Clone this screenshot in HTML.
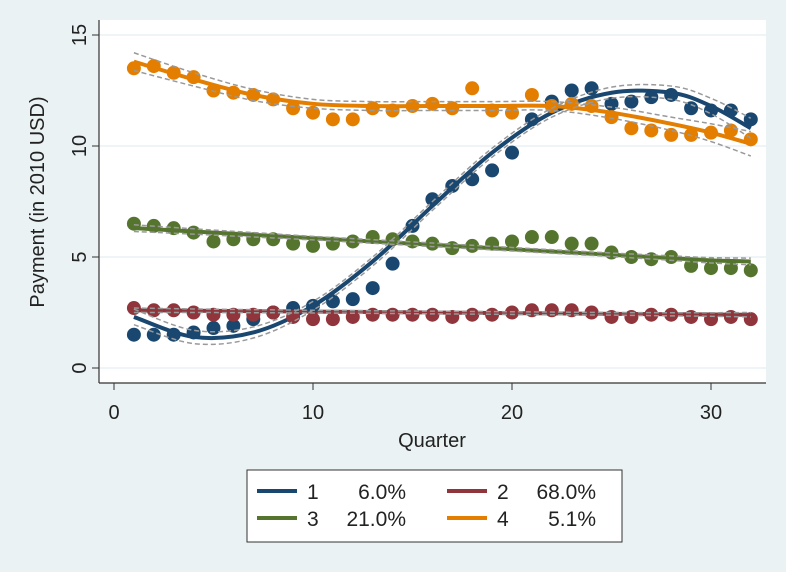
<!DOCTYPE html>
<html><head><meta charset="utf-8"><style>
body{margin:0;background:#eaf2f3;}
svg{display:block;font-family:"Liberation Sans",sans-serif;}
</style></head><body>
<svg id="chart" width="786" height="572">
<rect x="0" y="0" width="786" height="572" fill="#eaf2f3"/>
<rect x="99" y="20" width="667" height="363" fill="#ffffff"/>
<g id="grid"></g><g id="fits"></g><g id="points"></g><g id="axes"></g>
<text x="432" y="447" font-size="20" text-anchor="middle" fill="#222">Quarter</text>
<text transform="translate(44,202) rotate(-90)" font-size="20" text-anchor="middle" fill="#222">Payment (in 2010 USD)</text>
<g>
<rect x="247" y="470" width="375" height="72" fill="#fff" stroke="#333" stroke-width="1"/>
<g id="legend"></g>
</g>
</svg>
<script>
const quarters=[1,2,3,4,5,6,7,8,9,10,11,12,13,14,15,16,17,18,19,20,21,22,23,24,25,26,27,28,29,30,31,32];
const s1=[1.5,1.5,1.5,1.6,1.8,1.9,2.2,2.5,2.7,2.8,3.0,3.1,3.6,4.7,6.4,7.6,8.2,8.5,8.9,9.7,11.2,12.0,12.5,12.6,11.9,12.0,12.2,12.3,11.7,11.6,11.6,11.2];
const s2=[2.7,2.6,2.6,2.5,2.4,2.4,2.4,2.5,2.3,2.2,2.2,2.3,2.4,2.4,2.4,2.4,2.3,2.4,2.4,2.5,2.6,2.6,2.6,2.5,2.3,2.3,2.4,2.4,2.3,2.2,2.3,2.2];
const s3=[6.5,6.4,6.3,6.1,5.7,5.8,5.8,5.8,5.6,5.5,5.6,5.7,5.9,5.8,5.7,5.6,5.4,5.5,5.6,5.7,5.9,5.9,5.6,5.6,5.2,5.0,4.9,5.0,4.6,4.5,4.5,4.4];
const s4=[13.5,13.6,13.3,13.1,12.5,12.4,12.3,12.1,11.7,11.5,11.2,11.2,11.7,11.6,11.8,11.9,11.7,12.6,11.6,11.5,12.3,11.8,11.9,11.8,11.3,10.8,10.7,10.5,10.5,10.6,10.7,10.3];
const fitX=[1,4,7,10,13,16,19,22,25,28,30,32];
const fit1=[2.3,1.4,1.6,2.8,4.8,7.3,9.7,11.5,12.4,12.4,11.8,10.8];
const fit2=[2.6,2.58,2.56,2.54,2.52,2.5,2.48,2.46,2.44,2.42,2.41,2.4];
const fit3=[6.3,6.15,6.0,5.85,5.7,5.55,5.4,5.25,5.1,4.95,4.85,4.8];
const fit4=[13.8,13.0,12.3,11.9,11.8,11.8,11.8,11.8,11.5,11.0,10.6,10.1];
const ci1=[0.35,0.3,0.25,0.2,0.2,0.2,0.2,0.2,0.25,0.3,0.35,0.45];
const ci2=[0.1,0.08,0.07,0.06,0.06,0.06,0.06,0.06,0.06,0.07,0.08,0.1];
const ci3=[0.15,0.12,0.1,0.08,0.08,0.08,0.08,0.08,0.08,0.1,0.12,0.15];
const ci4=[0.4,0.3,0.25,0.2,0.2,0.2,0.2,0.2,0.25,0.3,0.4,0.55];
const xTicks=[0,10,20,30];
const yTicks=[0,5,10,15];
const legendLabels=["1","2","3","4"];
const legendPct=["6.0%","68.0%","21.0%","5.1%"];
const colors=["#1a476f","#90353b","#55752f","#e37e00"];
const NS="http://www.w3.org/2000/svg";
const X=v=>114+v*19.9, Y=v=>368-v*22.2;
function mk(tag,attrs,parent){const e=document.createElementNS(NS,tag);for(const k in attrs)e.setAttribute(k,attrs[k]);parent.appendChild(e);return e;}
function smooth(xs,ys){const p=xs.map((x,i)=>[X(x),Y(ys[i])]);let d="M"+p[0][0]+","+p[0][1];
for(let i=0;i<p.length-1;i++){const p0=p[Math.max(0,i-1)],p1=p[i],p2=p[i+1],p3=p[Math.min(p.length-1,i+2)];
d+=" C"+(p1[0]+(p2[0]-p0[0])/6)+","+(p1[1]+(p2[1]-p0[1])/6)+" "+(p2[0]-(p3[0]-p1[0])/6)+","+(p2[1]-(p3[1]-p1[1])/6)+" "+p2[0]+","+p2[1];}return d;}
const grid=document.getElementById('grid'),axes=document.getElementById('axes');
yTicks.forEach(t=>{const g=mk('line',{x1:99,x2:766,y1:Y(t),y2:Y(t),stroke:'#eaf2f3','stroke-width':1.5},grid);


const tk=mk('line',{x1:92,x2:99,y1:Y(t),y2:Y(t),stroke:'#333'},axes);


const tx=mk('text',{transform:'translate(86,'+Y(t)+') rotate(-90)','text-anchor':'middle','font-size':20,fill:'#222'},axes);tx.textContent=t;

});
xTicks.forEach(t=>{const tk=mk('line',{x1:X(t),x2:X(t),y1:383,y2:390,stroke:'#333'},axes);


const tx=mk('text',{x:X(t),y:419,'text-anchor':'middle','font-size':20,fill:'#222'},axes);tx.textContent=t;

});
const ya=mk('line',{x1:99,x2:99,y1:20,y2:383,stroke:'#333','stroke-width':1.2},axes);


const xa=mk('line',{x1:99,x2:766,y1:383,y2:383,stroke:'#333','stroke-width':1.2},axes);


const series=[s1,s2,s3,s4],fits=[fit1,fit2,fit3,fit4],cis=[ci1,ci2,ci3,ci4];
const svg=document.getElementById('chart');
const bands=mk('g',{},svg);
const fg=document.getElementById('fits'),pg=document.getElementById('points');
series.forEach((s,k)=>{
s.forEach((v,i)=>{const c=mk('circle',{cx:X(quarters[i]),cy:Y(v),r:7,fill:colors[k]},pg);

});
const f=fits[k],ci=cis[k];
[1,-1].forEach(sg=>{const b=mk('path',{d:smooth(fitX,f.map((v,i)=>v+sg*ci[i])),fill:'none',stroke:'#999','stroke-width':1.5,'stroke-dasharray':'5,3'},bands);

});
const l=mk('path',{d:smooth(fitX,f),fill:'none',stroke:colors[k],'stroke-width':4},fg);

});
const lg=document.getElementById('legend');
legendLabels.forEach((lab,i)=>{const col=i%2,row=Math.floor(i/2);const x0=257+col*190,y0=491+row*27;
const ln=mk('line',{x1:x0,x2:x0+40,y1:y0,y2:y0,stroke:colors[i],'stroke-width':4},lg);


const t=mk('text',{x:x0+50,y:y0+8,'font-size':21,fill:'#222'},lg);t.textContent=lab;


const p=mk('text',{x:x0+149,y:y0+8,'font-size':21,fill:'#222','text-anchor':'end'},lg);p.textContent=legendPct[i];

});
</script>
</body></html>
